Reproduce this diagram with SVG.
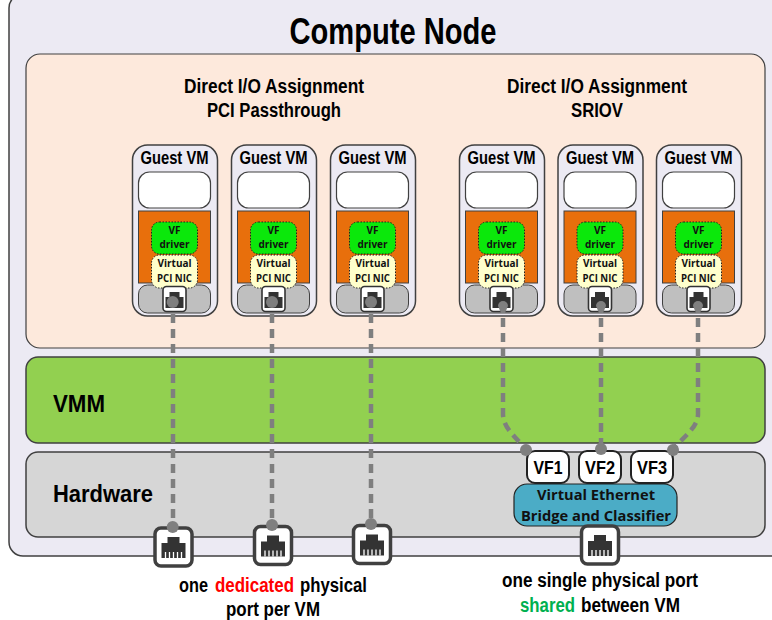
<svg xmlns="http://www.w3.org/2000/svg" width="772" height="620" viewBox="0 0 772 620">
<style>
text{font-family:"Liberation Sans",Arial,sans-serif;font-weight:700;text-anchor:middle;fill:#000}
.nar{font-family:"Open Sans","Noto Sans",sans-serif;font-weight:700;fill:#111}
.dash{fill:none;stroke:#7f7f7f;stroke-width:4.500;stroke-dasharray:9 6}
.dot{fill:#7f7f7f}
</style>
<defs>
<g id="rj">
<rect x="-18.500" y="-19" width="37" height="38" rx="6" fill="#fff" stroke="#404040" stroke-width="3.500"/>
<path d="M-6-10H6V-4H12V11H-12V-4H-6Z" fill="#333"/>
<path d="M-8 5V11M-4 5V11M0 5V11M4 5V11M8 5V11" stroke="#fff" stroke-width="1.300"/>
</g>
<g id="vm">
<rect x="-42" y="0" width="85" height="171" rx="15" fill="#eceaf3" stroke="#404040" stroke-width="1.500"/>
<text x="0" y="19" font-size="18" textLength="68" lengthAdjust="spacingAndGlyphs">Guest VM</text>
<rect x="-36" y="27" width="72" height="36" rx="11" fill="#fff" stroke="#404040" stroke-width="1.200"/>
<rect x="-36" y="66" width="72" height="72" fill="#e86f0c" stroke="#404040" stroke-width="1"/>
<rect x="-36" y="140" width="72" height="28" rx="9" fill="#bfbfbf" stroke="#404040" stroke-width="1"/>
<rect x="-23" y="77" width="46" height="32" rx="8" fill="#0be80b" stroke="#222" stroke-width="1" stroke-dasharray="1.500 1.500"/>
<rect x="-23" y="110" width="46" height="33" rx="8" fill="#ffffcc" stroke="#222" stroke-width="1" stroke-dasharray="1.500 1.500"/>
<text class="nar" x="0" y="89" font-size="10">VF</text>
<text class="nar" x="0" y="103" font-size="10">driver</text>
<text class="nar" x="0" y="122" font-size="10">Virtual</text>
<text class="nar" x="0" y="137" font-size="10" textLength="35" lengthAdjust="spacingAndGlyphs">PCI NIC</text>
<rect x="-11.500" y="141.500" width="23" height="25" rx="3.500" fill="#fff" stroke="#333" stroke-width="1.600"/>
<path d="M-5 147H5V152H9V163H-9V152H-5Z" fill="#333"/>
</g>
</defs>
<g id="compute-node">
<rect x="9" y="-6" width="780" height="562" rx="14" fill="#eceaf3" stroke="#404040" stroke-width="1.500"/>
<text x="393" y="44" font-size="37" textLength="207" lengthAdjust="spacingAndGlyphs">Compute Node</text>
</g>
<g id="guest-area">
<rect x="26" y="54" width="739" height="294" rx="14" fill="#fde9dc" stroke="#404040" stroke-width="1.200"/>
<text x="274" y="93" font-size="20" textLength="180" lengthAdjust="spacingAndGlyphs">Direct I/O Assignment</text>
<text x="274" y="117" font-size="20" textLength="134" lengthAdjust="spacingAndGlyphs">PCI Passthrough</text>
<text x="597" y="93" font-size="20" textLength="180" lengthAdjust="spacingAndGlyphs">Direct I/O Assignment</text>
<text x="597" y="117" font-size="20" textLength="52" lengthAdjust="spacingAndGlyphs">SRIOV</text>
</g>
<g id="vmm">
<rect x="26" y="357" width="739" height="86" rx="12" fill="#92d050" stroke="#404040" stroke-width="1.500"/>
<text x="79" y="412" font-size="23" textLength="52" lengthAdjust="spacingAndGlyphs">VMM</text>
</g>
<g id="hardware">
<rect x="26" y="452" width="739" height="85" rx="12" fill="#d6d6d6" stroke="#404040" stroke-width="1.500"/>
<text x="103" y="502" font-size="23" textLength="100" lengthAdjust="spacingAndGlyphs">Hardware</text>
</g>
<g id="vm1"><use href="#vm" x="174.500" y="145"/></g>
<g id="vm2"><use href="#vm" x="273.500" y="145"/></g>
<g id="vm3"><use href="#vm" x="372.500" y="145"/></g>
<g id="vm4"><use href="#vm" x="501.500" y="145"/></g>
<g id="vm5"><use href="#vm" x="600" y="145"/></g>
<g id="vm6"><use href="#vm" x="698.500" y="145"/></g>
<g id="port1"><use href="#rj" x="173.500" y="547"/></g>
<g id="port2"><use href="#rj" x="273" y="545.500"/></g>
<g id="port3"><use href="#rj" x="372" y="544.500"/></g>
<g id="vf1"><rect x="527" y="451" width="42" height="32" rx="8" fill="#fff" stroke="#222" stroke-width="2"/><text x="548" y="474" font-size="19" textLength="29" lengthAdjust="spacingAndGlyphs">VF1</text></g>
<g id="vf2"><rect x="579" y="451" width="42" height="32" rx="8" fill="#fff" stroke="#222" stroke-width="2"/><text x="600" y="474" font-size="19" textLength="30" lengthAdjust="spacingAndGlyphs">VF2</text></g>
<g id="vf3"><rect x="631" y="451" width="42" height="32" rx="8" fill="#fff" stroke="#222" stroke-width="2"/><text x="652" y="474" font-size="19" textLength="30" lengthAdjust="spacingAndGlyphs">VF3</text></g>
<g id="bridge">
<rect x="514" y="484" width="163" height="42" rx="13" fill="#4bacc6" stroke="#222" stroke-width="1.200"/>
<text class="nar" x="596" y="500" font-size="14.500" textLength="118" lengthAdjust="spacingAndGlyphs">Virtual Ethernet</text>
<text class="nar" x="596" y="521" font-size="14.500" textLength="150" lengthAdjust="spacingAndGlyphs">Bridge and Classifier</text>
</g>
<g id="port4"><use href="#rj" x="600" y="545"/></g>
<g id="connectors">
<path class="dash" d="M173 314V526"/>
<path class="dash" d="M272 314V525"/>
<path class="dash" d="M371 314V524"/>
<path class="dash" d="M503 318V415C504 427 512 434 526 449"/>
<path class="dash" d="M601 318V449"/>
<path class="dash" d="M698 318V415C697 427 687 434 673 449"/>
<circle class="dot" cx="172.700" cy="302" r="6"/>
<circle class="dot" cx="272" cy="302" r="6"/>
<circle class="dot" cx="371" cy="302" r="6"/>
<path class="dot" d="M498 306A5 5 0 0 1 508 306L505 313H501Z"/>
<path class="dot" d="M596 306A5 5 0 0 1 606 306L603 313H599Z"/>
<path class="dot" d="M693 306A5 5 0 0 1 703 306L700 313H696Z"/>
<circle class="dot" cx="526" cy="450" r="6"/>
<circle class="dot" cx="601" cy="449" r="6"/>
<circle class="dot" cx="673" cy="450" r="6"/>
<circle class="dot" cx="172.700" cy="527" r="6"/>
<circle class="dot" cx="272" cy="525" r="6"/>
<circle class="dot" cx="371" cy="524" r="6"/>
</g>
<g id="label-dedicated">
<text x="193.500" y="592" font-size="19.500" textLength="29" lengthAdjust="spacingAndGlyphs">one</text>
<text x="254.500" y="592" font-size="19.500" textLength="79" lengthAdjust="spacingAndGlyphs" style="fill:#ff0000">dedicated</text>
<text x="333.500" y="592" font-size="19.500" textLength="67" lengthAdjust="spacingAndGlyphs">physical</text>
<text x="273" y="616" font-size="19.500" textLength="94" lengthAdjust="spacingAndGlyphs">port per VM</text>
</g>
<g id="label-shared">
<text x="600" y="587" font-size="19.500" textLength="196" lengthAdjust="spacingAndGlyphs">one single physical port</text>
<text x="547.500" y="612" font-size="19.500" textLength="55" lengthAdjust="spacingAndGlyphs" style="fill:#00b050">shared</text>
<text x="630.500" y="612" font-size="19.500" textLength="99" lengthAdjust="spacingAndGlyphs">between VM</text>
</g>
</svg>
